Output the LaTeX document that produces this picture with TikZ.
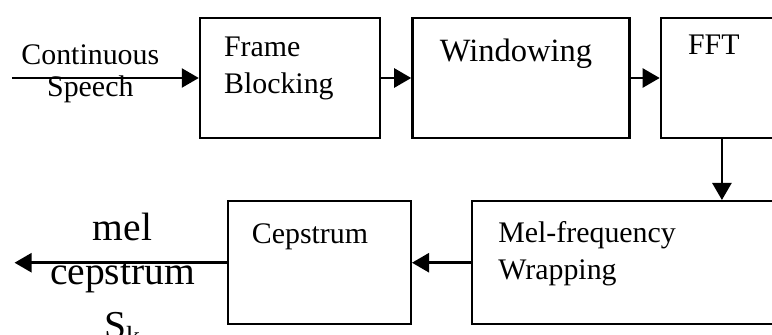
\documentclass[tikz,border=0pt]{standalone}
\usepackage{fontspec}
\setmainfont{Liberation Serif}
\usetikzlibrary{positioning,arrows.meta,calc}

\begin{document}
\begin{tikzpicture}[
node distance=6mm and 6mm,
box/.style={draw, line width=1.4pt, minimum height=2.4cm, inner sep=0pt},
txt/.style={inner sep=0pt, align=left, font=\fontsize{17}{21}\selectfont},
bigtxt/.style={inner sep=0pt, align=center, font=\fontsize{22.5}{25}\selectfont},
arr/.style={-{Triangle[length=3.4mm,width=3.8mm]}, line width=1.4pt}
]
\useasboundingbox (0,0) rectangle (15.44,6.7);
\clip (0,0) rectangle (15.44,6.7);
\node[box, minimum width=3.6cm] (frame) at (5.8,5.14) {};
\node[box, minimum width=4.34cm, right=6mm of frame] (win) {};
\node[box, minimum width=2.44cm, right=5.8mm of win] (fft) {};
\node[box, minimum width=6.4cm, minimum height=2.46cm, anchor=north west] (mel) at (9.42,2.7) {};
\node[box, minimum width=3.66cm, minimum height=2.46cm, left=11.8mm of mel] (cep) {};
\coordinate[left=37.4mm of frame] (in);
\coordinate[left=42.4mm of cep] (out);
\node[txt, anchor=north west] (frametxt) at ([shift={(0.5,-0.4)}]frame.north west) {Frame\\Blocking};
\node[txt, anchor=north, font=\fontsize{18.5}{22}\selectfont] (wintxt) at ([shift={(-0.1,-0.44)}]win.north) {Windowing};
\node[txt, anchor=north west] (ffttxt) at ([shift={(0.56,-0.36)}]fft.north west) {FFT};
\node[txt, anchor=north west] (meltxt) at ([shift={(0.54,-0.42)}]mel.north west) {Mel-frequency\\Wrapping};
\node[txt, anchor=north west] (ceptxt) at ([shift={(0.5,-0.46)}]cep.north west) {Cepstrum};
\node[txt, align=center, font=\fontsize{17}{18}\selectfont] (speech) at ([yshift=0.8mm]$(in)!0.42!(frame.west)$) {Continuous\\Speech};
\node[bigtxt, anchor=north] (mfcc) at ([shift={(0.04,1.0)}]$(out)!0.5!(cep.west)$) {mel\\cepstrum\\[6pt]S\textsubscript{k}};
\draw[arr] (in) -- (frame);
\draw[arr] (frame) -- (win);
\draw[arr] (win) -- (fft);
\draw[arr] (fft) -- (fft.south |- mel.north);
\draw[arr] (mel) -- (cep);
\draw[arr] (cep) -- (out);
\end{tikzpicture}
\end{document}
